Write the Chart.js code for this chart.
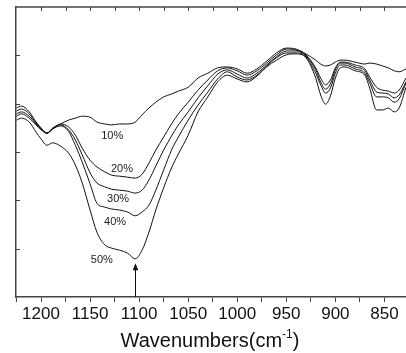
<!DOCTYPE html>
<html>
<head>
<meta charset="utf-8">
<script src="https://cdn.jsdelivr.net/npm/chart.js@4.4.1/dist/chart.umd.min.js"></script>
<style>
  html, body { margin: 0; padding: 0; background: #fff; }
  #wrap { width: 406px; height: 353px; }
</style>
</head>
<body>
<div id="wrap"><canvas id="ftir"></canvas></div>
<script>
// wavenumbers (cm-1), shared by all spectra
const wavenumbers = [1225,1220,1212,1205,1200,1194,1188,1180,1172,1165,1158,1150,1143,1135,1128,1120,1112,1104,1097,1090,
  1083,1075,1067,1060,1050,1040,1030,1020,1010,1000,990,980,970,960,950,940,930,920,915,910,
  905,900,895,890,880,870,865,858,852,846,840,835,828];

// transmittance, arbitrary units
const s10 = [3.91,3.95,3.83,3.62,3.50,3.39,3.50,3.58,3.66,3.70, 3.74,3.72,3.62,3.58,3.56,3.58,3.58,3.62,3.77,3.91,
  4.03,4.14,4.20,4.26,4.34,4.53,4.63,4.74,4.76,4.72, 4.63,4.72,4.88,5.05,5.15,5.13,5.03,4.90,4.82,4.78,
  4.80,4.86,4.90,4.90,4.86,4.82,4.84,4.82,4.78,4.74, 4.68,4.66,4.72];
const s20 = [3.85,3.89,3.79,3.60,3.48,3.39,3.48,3.58,3.52,3.35, 3.08,2.83,2.69,2.59,2.52,2.50,2.48,2.46,2.54,2.77,
  3.04,3.31,3.58,3.79,4.03,4.28,4.49,4.68,4.74,4.68, 4.59,4.68,4.84,5.01,5.13,5.11,5.01,4.74,4.53,4.39,
  4.49,4.74,4.86,4.86,4.80,4.72,4.55,4.34,4.28,4.26, 4.22,4.28,4.53];
const s30 = [3.79,3.83,3.74,3.58,3.48,3.39,3.48,3.56,3.46,3.25, 2.94,2.57,2.36,2.28,2.23,2.21,2.19,2.15,2.21,2.42,
  2.71,3.04,3.33,3.56,3.83,4.12,4.37,4.61,4.70,4.61, 4.53,4.63,4.80,4.97,5.09,5.09,4.99,4.70,4.45,4.30,
  4.41,4.70,4.84,4.84,4.76,4.68,4.49,4.24,4.22,4.20, 4.12,4.18,4.45];
const s40 = [3.74,3.79,3.70,3.56,3.46,3.39,3.48,3.54,3.43,3.14, 2.79,2.34,1.94,1.86,1.82,1.80,1.76,1.68,1.76,1.90,
  2.21,2.63,3.04,3.31,3.66,3.97,4.24,4.51,4.66,4.55, 4.49,4.59,4.78,4.95,5.05,5.05,4.97,4.63,4.39,4.22,
  4.32,4.63,4.80,4.80,4.72,4.63,4.43,4.14,4.14,4.12, 4.03,4.10,4.43];
const s50 = [3.66,3.70,3.62,3.41,3.27,3.14,3.19,3.12,2.98,2.73, 2.36,1.80,1.34,1.08,1.01,0.97,0.91,0.79,0.97,1.34,
  1.80,2.26,2.67,2.96,3.35,3.83,4.14,4.45,4.59,4.51, 4.45,4.57,4.76,4.90,5.01,5.03,4.95,4.53,4.18,3.99,
  4.16,4.53,4.74,4.76,4.68,4.59,4.32,3.87,3.87,3.91, 3.83,3.91,4.34];

const seriesNames = ['10%', '20%', '30%', '40%', '50%'];
const seriesValues = [s10, s20, s30, s40, s50];

// where the percentage labels sit (wavenumber, value)
const labelX = [1127.5, 1117.5, 1121.5, 1124.5, 1138];
const labelY = [3.33, 2.65, 2.03, 1.55, 0.77];

// arrow marking the band centre
const arrowAt = 1104;
const arrowTip = 0.70;

const font = "'Liberation Sans', Arial, sans-serif";

const datasets = seriesValues.map((vals, i) => ({
  label: seriesNames[i],
  data: wavenumbers.map((w, j) => ({ x: w, y: vals[j] })),
  borderColor: '#111',
  borderWidth: 1,
  pointRadius: 0,
  tension: 0.4,
  cubicInterpolationMode: 'monotone',
  fill: false
}));

const extras = {
  id: 'extras',
  afterDraw(chart) {
    const { ctx, chartArea: a, scales: { x, y } } = chart;
    ctx.save();
    ctx.strokeStyle = '#444';
    ctx.lineWidth = 1.5;
    ctx.beginPath();
    ctx.moveTo(a.left, a.top);
    ctx.lineTo(a.right, a.top);
    ctx.stroke();

    ctx.lineWidth = 1;
    ctx.beginPath();
    for (let v = 850; v <= 1200; v += 25) {
      const px = Math.round(x.getPixelForValue(v)) + 0.5;
      ctx.moveTo(px, a.top);
      ctx.lineTo(px, a.top + 4);
    }
    for (let v = 1; v < 6; v++) {
      const py = Math.round(y.getPixelForValue(v)) + 0.5;
      ctx.moveTo(a.left, py);
      ctx.lineTo(a.left + 4, py);
    }
    ctx.stroke();

    // percentage labels
    ctx.fillStyle = '#222';
    ctx.font = '11px ' + font;
    ctx.textAlign = 'center';
    ctx.textBaseline = 'middle';
    seriesNames.forEach((n, i) => {
      ctx.fillText(n, x.getPixelForValue(labelX[i]), y.getPixelForValue(labelY[i]));
    });

    // arrow
    const ax = Math.round(x.getPixelForValue(arrowAt)) + 0.5;
    const ty = y.getPixelForValue(arrowTip);
    ctx.strokeStyle = '#111';
    ctx.beginPath();
    ctx.moveTo(ax, a.bottom);
    ctx.lineTo(ax, ty + 5);
    ctx.stroke();
    ctx.fillStyle = '#111';
    ctx.beginPath();
    ctx.moveTo(ax, ty);
    ctx.lineTo(ax - 2.8, ty + 7);
    ctx.lineTo(ax + 2.8, ty + 7);
    ctx.closePath();
    ctx.fill();

    // axis title with superscript
    const t1 = 'Wavenumbers(cm', t2 = '-1', t3 = ')';
    ctx.textAlign = 'left';
    ctx.textBaseline = 'alphabetic';
    ctx.fillStyle = '#111';
    ctx.font = '20px ' + font;
    const w1 = ctx.measureText(t1).width, w3 = ctx.measureText(t3).width;
    ctx.font = '12px ' + font;
    const w2 = ctx.measureText(t2).width;
    let tx = 210 - (w1 + w2 + w3) / 2;
    const base = 347;
    ctx.font = '20px ' + font;
    ctx.fillText(t1, tx, base);
    tx += w1;
    ctx.font = '12px ' + font;
    ctx.fillText(t2, tx, base - 9);
    tx += w2;
    ctx.font = '20px ' + font;
    ctx.fillText(t3, tx, base);
    ctx.restore();
  }
};

new Chart(document.getElementById('ftir'), {
  type: 'line',
  data: { datasets: datasets },
  options: {
    responsive: true,
    maintainAspectRatio: false,
    animation: false,
    layout: { padding: { top: 7, right: 0, left: 0, bottom: 0 } },
    plugins: { legend: { display: false }, tooltip: { enabled: false } },
    scales: {
      x: {
        type: 'linear',
        reverse: true,
        min: 828,
        max: 1225.5,
        ticks: {
          stepSize: 25,
          includeBounds: false,
          autoSkip: false,
          maxRotation: 0,
          padding: 2,
          color: '#111',
          font: { size: 17, family: font },
          callback: v => (v % 50 === 0 ? v : '')
        },
        grid: { drawOnChartArea: false, tickLength: 5, color: '#444', lineWidth: 1 },
        border: { color: '#444', width: 1.5 },
        afterFit: s => { s.height = 56; }
      },
      y: {
        min: 0,
        max: 6,
        ticks: { display: false, stepSize: 1 },
        grid: { display: false },
        border: { color: '#444', width: 1.5 },
        afterFit: s => { s.width = 16; }
      }
    }
  },
  plugins: [extras]
});
</script>
</body>
</html>
